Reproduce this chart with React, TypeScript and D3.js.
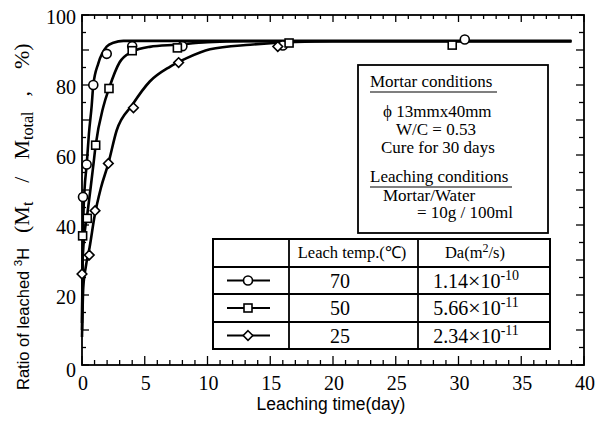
import React from "react";
import * as d3 from "d3";

// ---- data ----
const xTicks = [0, 5, 10, 15, 20, 25, 30, 35, 40];
const yTicks = [0, 20, 40, 60, 80, 100];

// fitted curves (days, %)
const curve70: [number, number][] = [
  [0, 10], [0.05, 30], [0.1, 41], [0.2, 50], [0.37, 57], [0.55, 66], [0.77, 74], [0.9, 80],
  [1.3, 86.2], [1.97, 91], [2.5, 92.1], [3.3, 92.6], [5, 92.6], [39, 92.6],
];
const curve50: [number, number][] = [
  [0, 12], [0.05, 30], [0.2, 37.5], [0.42, 43], [0.7, 51], [0.9, 57], [1.09, 62.8], [1.7, 73.8],
  [2.15, 79], [3.0, 86.5], [4.0, 89.5], [5.4, 90.9], [7.5, 91.5], [10, 92.2], [13, 92.5], [39, 92.5],
];
const curve25: [number, number][] = [
  [0, 8], [0.1, 22], [0.3, 28], [0.6, 33.5], [1.0, 42.5], [1.5, 50.5], [2.1, 57.6], [2.76, 67],
  [4.0, 74.3], [5.4, 81], [7.0, 85.2], [8.3, 87.6], [10.2, 90.2], [13.4, 91.5], [17, 92.3], [20, 92.5], [39, 92.5],
];

// measured points
const pts70: [number, number][] = [
  [0.08, 48], [0.37, 57.3], [0.9, 80], [1.97, 88.9], [4.0, 91.1], [8.0, 91.1], [16.0, 91.3], [30.5, 93],
];
const pts50: [number, number][] = [
  [0.05, 36.9], [0.42, 41.9], [1.09, 62.8], [2.15, 79], [4.0, 89.8], [7.6, 90.6], [16.5, 92], [29.5, 91.4],
];
const pts25: [number, number][] = [
  [0, 26], [0.58, 31.4], [1.04, 44.1], [2.1, 57.6], [4.1, 73.5], [7.7, 86.4], [15.6, 91],
];

const temps = ["70", "50", "25"];
const daMant = ["1.14", "5.66", "2.34"];
const daExp = ["-10", "-11", "-11"];
const markerKinds = ["circle", "square", "diamond"];

const SERIF = "'Liberation Serif', 'Times New Roman', serif";
const SANS = "'Liberation Sans', Arial, sans-serif";

function Marker({ kind, x, y }: { kind: string; x: number; y: number }) {
  const st = { fill: "#fff", stroke: "#000", strokeWidth: 1.6 };
  if (kind === "circle") return <circle cx={x} cy={y} r={4.5} {...st} />;
  if (kind === "square") return <rect x={x - 4} y={y - 4} width={8} height={8} {...st} />;
  return <path d={`M${x},${y - 4.8}L${x + 4.8},${y}L${x},${y + 4.8}L${x - 4.8},${y}Z`} {...st} />;
}

export default function App() {
  const L = 82, R = 584, T = 15, B = 365;
  const x = d3.scaleLinear().domain([0, 40]).range([L, R]);
  const y = d3.scaleLinear().domain([0, 100]).range([B, T]);
  const line = d3.line<[number, number]>().x((d) => x(d[0])).y((d) => y(d[1])).curve(d3.curveMonotoneX);

  const minorX = d3.range(0, 41, 1);
  const minorY = d3.range(0, 101, 5);

  const curves = [curve70, curve50, curve25];
  const pts = [pts70, pts50, pts25];

  // table geometry
  const tL = 213, tR = 550, tT = 239, c1 = 289, c2 = 418;
  const rowY = [239, 267, 294, 322, 349];

  return (
    <svg width={602} height={431} style={{ position: "absolute", left: 0, top: 0, background: "#fff" }}>
      <rect x={0} y={0} width={602} height={431} fill="#fff" />
      {/* frame */}
      <rect x={L} y={T} width={R - L} height={B - T} fill="none" stroke="#000" strokeWidth={1.8} />
      {minorX.map((v) => {
        const major = v % 5 === 0;
        return (
          <g key={"xt" + v}>
            <line x1={x(v)} x2={x(v)} y1={B} y2={B - (major ? 9 : 5)} stroke="#000" strokeWidth={1.3} />
            <line x1={x(v)} x2={x(v)} y1={T} y2={T + (major ? 7 : 4)} stroke="#000" strokeWidth={1.3} />
          </g>
        );
      })}
      {minorY.map((v) => {
        const major = v % 10 === 0;
        return (
          <g key={"yt" + v}>
            <line x1={L} x2={L + (major ? 7 : 4)} y1={y(v)} y2={y(v)} stroke="#000" strokeWidth={1.3} />
            <line x1={R} x2={R - (major ? 8 : 5)} y1={y(v)} y2={y(v)} stroke="#000" strokeWidth={1.3} />
          </g>
        );
      })}
      {xTicks.map((v) => (
        <text key={"xl" + v} x={x(v) + 1} y={390} textAnchor="middle" fontFamily={SERIF} fontSize={20}>
          {v}
        </text>
      ))}
      {yTicks.map((v) => (
        <text key={"yl" + v} x={76} y={y(v) + 9 + (v === 0 ? 3 : 0)} textAnchor="end" fontFamily={SERIF} fontSize={20}>
          {v}
        </text>
      ))}
      {/* axis titles */}
      <text x={331} y={410} textAnchor="middle" fontFamily={SANS} fontSize={17.5}>
        Leaching time(day)
      </text>
      <text transform="translate(29,390) rotate(-90)" textAnchor="start" fontSize={16.5} fontFamily={SANS}>
        <tspan>Ratio of leached </tspan>
        <tspan fontSize={11.5} dy={-7}>3</tspan>
        <tspan dy={7}>H</tspan>
      </text>
      <text transform="translate(29,233) rotate(-90)" textAnchor="start" fontSize={22} fontFamily={SERIF}>
        <tspan>(M</tspan>
        <tspan fontSize={16} dy={4}>t</tspan>
        <tspan dy={-4} dx={19}>/</tspan>
        <tspan dx={17}>M</tspan>
        <tspan fontSize={16} dy={4}>total</tspan>
        <tspan dy={-4} dx={15}>,</tspan>
        <tspan dx={22}>%)</tspan>
      </text>

      {/* curves */}
      {curves.map((c, i) => (
        <path key={"c" + i} d={line(c) || ""} fill="none" stroke="#000" strokeWidth={2.6} />
      ))}
      {pts.map((p, i) =>
        p.map((d, j) => <Marker key={"m" + i + "_" + j} kind={markerKinds[i]} x={x(d[0])} y={y(d[1])} />)
      )}

      {/* Mortar conditions box */}
      <rect x={358} y={65} width={190} height={168} fill="#fff" stroke="#000" strokeWidth={1.8} />
      <g fontFamily={SERIF} fontSize={17}>
        <text x={370} y={87}>Mortar conditions</text>
        <line x1={370} x2={497} y1={92} y2={92} stroke="#000" strokeWidth={1.2} />
        <text x={383} y={117}>ϕ 13mmx40mm</text>
        <text x={396} y={135}>W/C = 0.53</text>
        <text x={381} y={153}>Cure for 30 days</text>
        <text x={370} y={182}>Leaching conditions</text>
        <line x1={370} x2={512} y1={187} y2={187} stroke="#000" strokeWidth={1.2} />
        <text x={383} y={201}>Mortar/Water</text>
        <text x={417} y={218}>= 10g / 100ml</text>
      </g>

      {/* legend table */}
      <rect x={tL} y={tT} width={tR - tL} height={rowY[4] - tT} fill="#fff" stroke="#000" strokeWidth={2} />
      {rowY.slice(1, 4).map((ry) => (
        <line key={"rl" + ry} x1={tL} x2={tR} y1={ry} y2={ry} stroke="#000" strokeWidth={1.8} />
      ))}
      <line x1={c1} x2={c1} y1={tT} y2={rowY[4]} stroke="#000" strokeWidth={1.8} />
      <line x1={c2} x2={c2} y1={tT} y2={rowY[4]} stroke="#000" strokeWidth={1.8} />
      <text x={352} y={258} textAnchor="middle" fontFamily={SERIF} fontSize={16.5}>Leach temp.(℃)</text>
      <text x={475} y={258} textAnchor="middle" fontFamily={SERIF} fontSize={16.5}>
        Da(m<tspan fontSize={12} dy={-6}>2</tspan><tspan dy={6}>/s)</tspan>
      </text>
      {temps.map((t, i) => {
        const cy = (rowY[i + 1] + rowY[i + 2]) / 2;
        return (
          <g key={"row" + i}>
            <line x1={227} x2={270} y1={cy} y2={cy} stroke="#000" strokeWidth={1.8} />
            <Marker kind={markerKinds[i]} x={248} y={cy} />
            <text x={340} y={cy + 7} textAnchor="middle" fontFamily={SERIF} fontSize={20}>{t}</text>
            <text x={476} y={cy + 7} textAnchor="middle" fontFamily={SERIF} fontSize={20}>
              {daMant[i]}<tspan fontSize={22}>×</tspan>10<tspan fontSize={14} dy={-8}>{daExp[i]}</tspan>
            </text>
          </g>
        );
      })}
    </svg>
  );
}
